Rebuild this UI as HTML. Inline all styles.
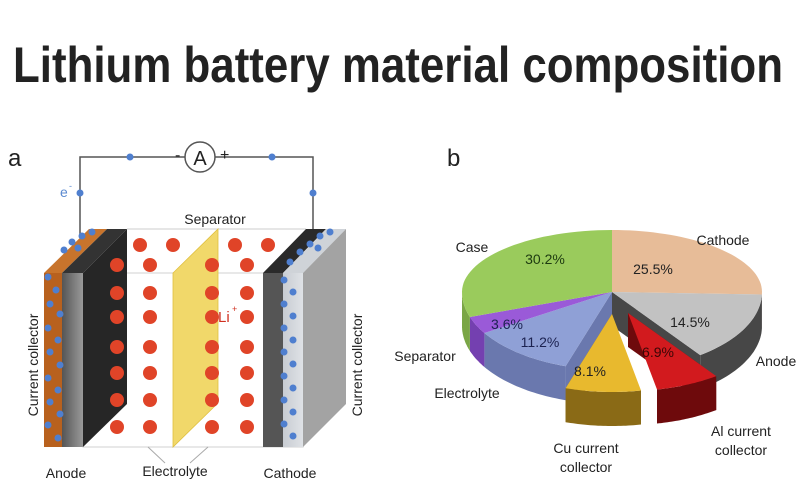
<!DOCTYPE html>
<html><head><meta charset="utf-8"><style>
html,body{margin:0;padding:0;background:#fff;}
svg{display:block;font-family:"Liberation Sans",Arial,sans-serif;}
</style></head><body>
<svg id="s" width="800" height="500" viewBox="0 0 800 500" xmlns="http://www.w3.org/2000/svg">
<defs>
<linearGradient id="gg" x1="0" x2="1"><stop offset="0" stop-color="#555"/><stop offset="1" stop-color="#9a9a9a"/></linearGradient>
<linearGradient id="cg" x1="0" x2="1"><stop offset="0" stop-color="#c8ccd2"/><stop offset="1" stop-color="#dfe2e6"/></linearGradient>
</defs>
<text x="398" y="82" text-anchor="middle" font-size="50" font-weight="bold" fill="#222" textLength="770" lengthAdjust="spacingAndGlyphs">Lithium battery material composition</text>
<text x="8" y="166" font-size="24" fill="#222">a</text>
<text x="447" y="166" font-size="24" fill="#222">b</text>
<g stroke="#555" stroke-width="1.5" fill="none">
<polyline points="80,236 80,157 185,157"/>
<polyline points="215,157 313,157 313,236"/>
</g>
<circle cx="200" cy="157" r="15" fill="#fff" stroke="#555" stroke-width="1.5"/>
<text x="200" y="165" text-anchor="middle" font-size="20" fill="#222">A</text>
<text x="175" y="160" font-size="16" fill="#222">-</text>
<text x="220" y="160" font-size="16" fill="#222">+</text>
<g fill="#4f7fcf"><circle cx="130" cy="157" r="3.5"/><circle cx="272" cy="157" r="3.5"/><circle cx="80" cy="193" r="3.5"/><circle cx="313" cy="193" r="3.5"/></g>
<text x="60" y="197" font-size="14" fill="#5b8ad0">e</text><text x="69" y="189" font-size="9" fill="#5b8ad0">-</text>
<text x="215" y="224" text-anchor="middle" font-size="14" fill="#222">Separator</text>
<g stroke="#d8d8d8" stroke-width="1.2" fill="none">
<line x1="127" y1="229" x2="306" y2="229"/>
<rect x="83" y="273" width="220" height="174"/>
</g>
<polygon points="44,273 89,229 107,229 62,273" fill="#c8742c"/>
<polygon points="62,273 107,229 127,229 83,273" fill="#333"/>
<rect x="44" y="273" width="18" height="174" fill="#b8611e"/>
<rect x="62" y="273" width="21" height="174" fill="url(#gg)"/>
<polygon points="83,273 127,229 127,404 83,447" fill="#262626"/>
<polygon points="173,273 218,229 218,403 173,447" fill="#f1d86a" stroke="#e0c040" stroke-width="0.8"/>
<polygon points="263,273 306,229 326,229 283,273" fill="#2a2a2a"/>
<polygon points="283,273 326,229 346,229 303,273" fill="#cfd3d8"/>
<rect x="263" y="273" width="20" height="174" fill="#555"/>
<rect x="283" y="273" width="20" height="174" fill="url(#cg)"/>
<polygon points="303,273 346,229 346,404 303,447" fill="#a3a3a3"/>
<g id="dots"></g>
<text x="218" y="322" font-size="15" fill="#d03020">Li</text><text x="232" y="312" font-size="9" fill="#d03020">+</text>
<g stroke="#aaa" stroke-width="1"><line x1="148" y1="447" x2="165" y2="463"/><line x1="208" y1="447" x2="190" y2="463"/></g>
<text x="66" y="478" text-anchor="middle" font-size="14" fill="#222">Anode</text>
<text x="175" y="476" text-anchor="middle" font-size="14" fill="#222">Electrolyte</text>
<text x="290" y="478" text-anchor="middle" font-size="14" fill="#222">Cathode</text>
<text transform="translate(38,365) rotate(-90)" text-anchor="middle" font-size="14" fill="#222">Current collector</text>
<text transform="translate(362,365) rotate(-90)" text-anchor="middle" font-size="14" fill="#222">Current collector</text>
<g id="pie"></g>
<g font-size="14" fill="#222">
<text x="472" y="252" text-anchor="middle">Case</text>
<text x="723" y="245" text-anchor="middle">Cathode</text>
<text x="776" y="366" text-anchor="middle">Anode</text>
<text x="425" y="361" text-anchor="middle">Separator</text>
<text x="467" y="398" text-anchor="middle">Electrolyte</text>
<text x="586" y="453" text-anchor="middle">Cu current</text>
<text x="586" y="472" text-anchor="middle">collector</text>
<text x="741" y="436" text-anchor="middle">Al current</text>
<text x="741" y="455" text-anchor="middle">collector</text>
</g>
<g font-size="14" fill="#222">
<text x="545" y="264" text-anchor="middle" fill="#1d3a10">30.2%</text>
<text x="653" y="274" text-anchor="middle">25.5%</text>
<text x="690" y="327" text-anchor="middle">14.5%</text>
<text x="658" y="357" text-anchor="middle" fill="#3a0606">6.9%</text>
<text x="507" y="329" text-anchor="middle" fill="#1c2250">3.6%</text>
<text x="540" y="347" text-anchor="middle" fill="#1c2250">11.2%</text>
<text x="590" y="376" text-anchor="middle">8.1%</text>
</g>
</svg>
<script>
var NS="http://www.w3.org/2000/svg";
function el(p,t,a){var e=document.createElementNS(NS,t);for(var k in a)e.setAttribute(k,a[k]);p.appendChild(e);return e;}
var D=document.getElementById('dots');
var cols=[117,150,212,247],rows=[265,293,317,347,373,400,427];
[140,173,235,268].forEach(function(x){el(D,'circle',{cx:x,cy:245,r:7,fill:'#e04428'});});
cols.forEach(function(x){rows.forEach(function(y){el(D,'circle',{cx:x,cy:y,r:7,fill:'#e04428'});});});
var bl=[[48,277],[56,290],[50,304],[60,314],[48,328],[58,340],[50,352],[60,365],[48,378],[58,390],[50,402],[60,414],[48,425],[58,438],[64,250],[72,242],[82,236],[78,248],[92,232]];
bl.forEach(function(p){el(D,'circle',{cx:p[0],cy:p[1],r:3.5,fill:'#4f7fcf'});});
for(var i=0;i<14;i++){el(D,'circle',{cx:284+(i%2)*9,cy:280+i*12,r:3.5,fill:'#4f7fcf'});}
[[290,262],[300,252],[310,244],[320,236],[330,232],[318,248]].forEach(function(p){el(D,'circle',{cx:p[0],cy:p[1],r:3.5,fill:'#4f7fcf'});});
var P=document.getElementById('pie');
var cx=612,cy=292,rx=150,dep=34;
var sl=[
 {v:25.5,t:'#e7bc98',s:'#b08a6a',o:[0,0]},
 {v:14.5,t:'#c2c2c2',s:'#474747',o:[0,0]},
 {v:6.9,t:'#d21a1e',s:'#6e0a0c',o:[16,21]},
 {v:8.1,t:'#e8b92e',s:'#8a6a16',o:[0,22]},
 {v:11.2,t:'#8fa0d6',s:'#6a78ae',o:[0,0]},
 {v:3.6,t:'#9a5ad8',s:'#7440b0',o:[0,0]},
 {v:30.2,t:'#9acb5c',s:'#7aa646',o:[0,0]}];
var a=0;sl.forEach(function(s){s.a1=a;a+=s.v*3.6;s.a2=a;});
function pt(th,ox,oy,dz){var r=th*Math.PI/180;var c=Math.cos(r);var ry=c>0?62:78;return [cx+ox+rx*Math.sin(r),cy+oy-ry*c+(dz||0)];}
function f(p){return p[0].toFixed(1)+','+p[1].toFixed(1);}
function radial(s,th){var c=[cx+s.o[0],cy+s.o[1]],p=pt(th,s.o[0],s.o[1]);
 el(P,'polygon',{points:[f(c),f(p),f([p[0],p[1]+dep]),f([c[0],c[1]+dep])].join(' '),fill:s.s});}
radial(sl[1],sl[1].a2);radial(sl[4],sl[4].a1);radial(sl[2],sl[2].a1);radial(sl[3],sl[3].a2);
sl.forEach(function(s){var b1=Math.max(s.a1,90),b2=Math.min(s.a2,270);if(b2<=b1)return;
 var pts=[],n=30;for(var i=0;i<=n;i++)pts.push(f(pt(b1+(b2-b1)*i/n,s.o[0],s.o[1])));
 for(var i=n;i>=0;i--)pts.push(f(pt(b1+(b2-b1)*i/n,s.o[0],s.o[1],dep)));
 el(P,'polygon',{points:pts.join(' '),fill:s.s});});
sl.forEach(function(s){var pts=[f([cx+s.o[0],cy+s.o[1]])],n=40;
 for(var i=0;i<=n;i++)pts.push(f(pt(s.a1+(s.a2-s.a1)*i/n,s.o[0],s.o[1])));
 el(P,'polygon',{points:pts.join(' '),fill:s.t});});
</script>
</body></html>
